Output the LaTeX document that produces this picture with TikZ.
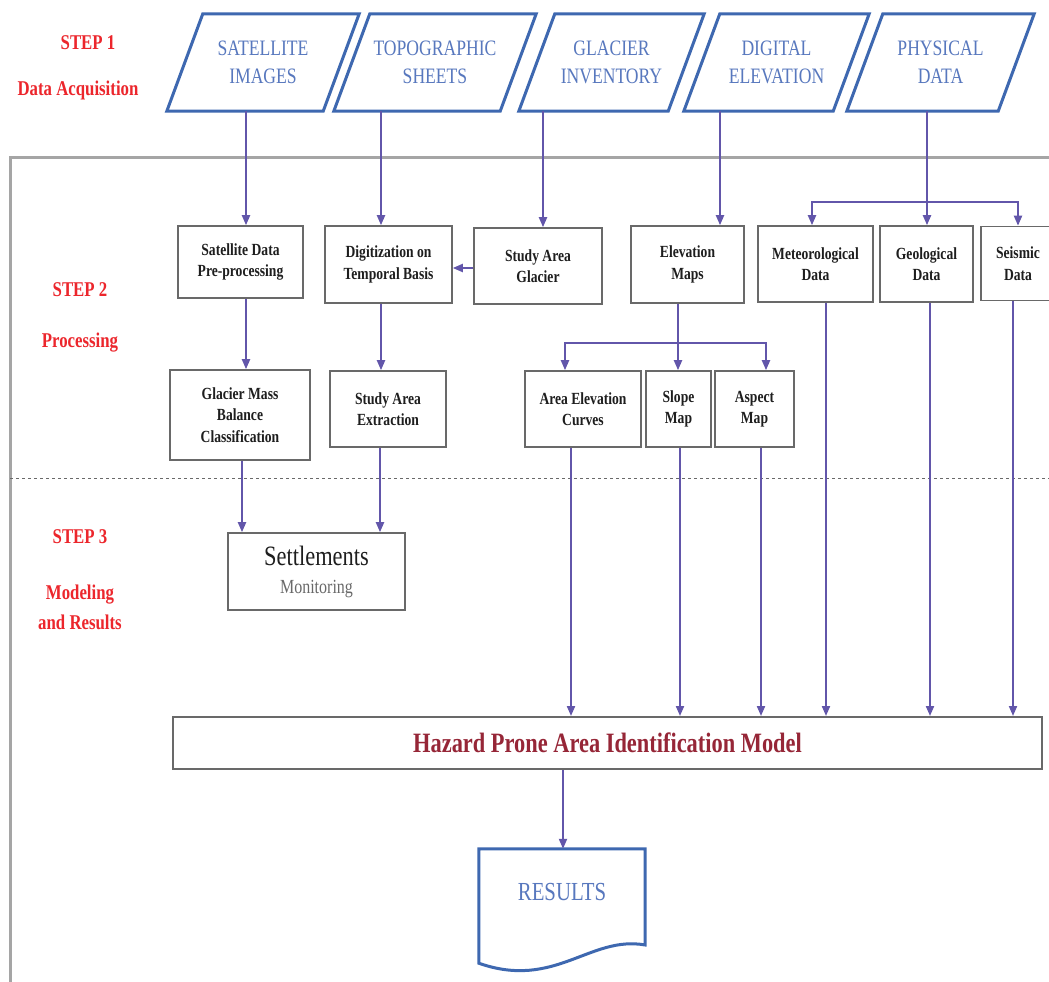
\documentclass[tikz,border=0pt]{standalone}
\usepackage{fontspec}
\setmainfont{Liberation Serif}
\newfontfamily\cond[FakeStretch=0.8]{Liberation Serif}
\usetikzlibrary{arrows.meta}
\definecolor{pblue}{RGB}{62,104,176}
\definecolor{ptext}{RGB}{88,120,190}
\definecolor{arrc}{RGB}{98,86,170}
\definecolor{sred}{RGB}{236,38,44}
\definecolor{bgray}{RGB}{105,105,105}
\definecolor{hred}{RGB}{150,38,55}
\definecolor{fgray}{RGB}{165,165,165}
\definecolor{btext}{RGB}{30,30,30}
\newcommand\paradraw[1]{\draw[paraline] (#1.north west) -- ([xshift=36pt]#1.north east) -- (#1.south east) -- ([xshift=-36pt]#1.south west) -- cycle;}
\begin{document}
\begin{tikzpicture}[x=1pt,y=-1pt,
  para/.style={draw=none, minimum height=97pt, inner sep=0pt, align=center, font=\cond\fontsize{22}{28}\selectfont, text=ptext},
  paraline/.style={draw=pblue, line width=3pt, line join=miter},
  box/.style={draw=bgray, line width=1.6pt, inner sep=0pt, align=center, text=btext, font=\cond\bfseries\fontsize{17}{21.5}\selectfont},
  steplbl/.style={text=sred, font=\cond\bfseries\fontsize{21}{30}\selectfont, align=center, inner sep=0pt},
  conn/.style={draw=arrc, line width=2pt, -{Triangle[length=10pt,width=8pt]}},
  plain/.style={draw=arrc, line width=2pt},
]
\fill[white] (0,0) rectangle (1049,982);
\useasboundingbox (0,0) rectangle (1049,982);

% frame and separator
\draw[fgray, line width=3pt] (1060,157) -- (10,157) -- (10,995);
\draw[bgray, line width=1pt, dash pattern=on 3pt off 3pt] (10,478) -- (1049,478);

% step labels
\node[steplbl] (s1) at (88,43) {STEP 1};
\node[steplbl] (s1b) at (78,90) {Data Acquisition};
\node[steplbl] (s2) at (80,290) {STEP 2};
\node[steplbl] (s2b) at (80,343) {Processing};
\node[steplbl] (s3) at (80,537) {STEP 3};
\node[steplbl] (s3b) at (80,607) {Modeling\\and Results};

% step 1 inputs
\node[para, minimum width=120pt] (sat) at (263,62.5) {SATELLITE\\IMAGES};
\node[para, minimum width=130pt] (topo) at (435,62.5) {TOPOGRAPHIC\\SHEETS};
\node[para, minimum width=113pt] (glac) at (611.5,62.5) {GLACIER\\INVENTORY};
\node[para, minimum width=113pt] (dig) at (776.5,62.5) {DIGITAL\\ELEVATION};
\node[para, minimum width=115pt] (phys) at (940.5,62.5) {PHYSICAL\\DATA};
\paradraw{sat}
\paradraw{topo}
\paradraw{glac}
\paradraw{dig}
\paradraw{phys}

% step 2 row 1
\node[box, minimum width=125pt, minimum height=72pt] (sdp) at (240.5,262) {Satellite Data\\Pre-processing};
\node[box, minimum width=127pt, minimum height=77pt] (dtb) at (388.5,264.5) {Digitization on\\Temporal Basis};
\node[box, minimum width=128pt, minimum height=76pt] (sag) at (538,266) {Study Area\\Glacier};
\node[box, minimum width=113pt, minimum height=77pt] (elm) at (687.5,264.5) {Elevation\\Maps};
\node[box, minimum width=115pt, minimum height=76pt] (met) at (815.5,264) {Meteorological\\Data};
\node[box, minimum width=93pt, minimum height=76pt] (geo) at (926.5,264) {Geological\\Data};
\node[box, minimum width=74pt, minimum height=74pt] (sei) at (1018,263.5) {Seismic\\Data};

% step 2 row 2
\node[box, minimum width=140pt, minimum height=90pt] (gmb) at (240,415) {Glacier Mass\\Balance\\Classification};
\node[box, minimum width=116pt, minimum height=76pt] (sae) at (388,409) {Study Area\\Extraction};
\node[box, minimum width=116pt, minimum height=76pt] (aec) at (583,409) {Area Elevation\\Curves};
\node[box, minimum width=65pt, minimum height=76pt] (slm) at (678.5,409) {Slope\\Map};
\node[box, minimum width=79pt, minimum height=76pt] (asm) at (754.5,409) {Aspect\\Map};

% step 3
\node[box, minimum width=177pt, minimum height=77pt, font=\cond\mdseries\fontsize{20}{28}\selectfont] (set) at (316.5,571.5) {{\fontsize{28}{28}\selectfont Settlements}\\{\color{bgray}Monitoring}};
\node[box, line width=2pt, minimum width=869pt, minimum height=52pt, font=\cond\bfseries\fontsize{28}{30}\selectfont, text=hred] (haz) at (607.5,743) {Hazard Prone Area Identification Model};

% results document
\node[draw=none, minimum width=166pt, minimum height=114pt, inner sep=0pt] (res) at (562,906) {};
\draw[pblue, line width=3pt, line join=miter] (res.north west) -- (res.north east) -- (res.east |- 0,945) .. controls (590,935) and (555,990) .. (res.south west) -- cycle;
\node[text=ptext, font=\cond\fontsize{26}{28}\selectfont, inner sep=0pt] (restxt) at ([yshift=14pt]res.center) {RESULTS};

% connectors step 1 -> step 2
\draw[conn] (sat.south -| 246,0) -- (sdp.north -| 246,0);
\draw[conn] (topo.south -| 381,0) -- (dtb.north -| 381,0);
\draw[conn] (glac.south -| 543,0) -- (sag.north -| 543,0);
\draw[conn] (dig.south -| 720,0) -- (elm.north -| 720,0);
\draw[conn] (phys.south -| 927,0) -- (geo.north -| 927,0);
\coordinate (pj) at (927,202);
\draw[conn] (pj) -| (met.north -| 812,0);
\draw[conn] (pj) -| (sei.north -| 1018,0);

% within step 2
\draw[conn] (sag.west |- 0,268) -- (dtb.east |- 0,268);
\draw[conn] (sdp.south -| 246,0) -- (gmb.north -| 246,0);
\draw[conn] (dtb.south -| 381,0) -- (sae.north -| 381,0);
\coordinate (ej) at (678,343);
\draw[plain] (elm.south -| 678,0) -- (ej);
\draw[conn] (ej) -| (aec.north -| 565,0);
\draw[conn] (ej) -- (slm.north -| 678,0);
\draw[conn] (ej) -| (asm.north -| 766,0);

% to step 3
\draw[conn] (gmb.south -| 242,0) -- (set.north -| 242,0);
\draw[conn] (sae.south -| 380,0) -- (set.north -| 380,0);
\draw[conn] (aec.south -| 571,0) -- (haz.north -| 571,0);
\draw[conn] (slm.south -| 680,0) -- (haz.north -| 680,0);
\draw[conn] (asm.south -| 761,0) -- (haz.north -| 761,0);
\draw[conn] (met.south -| 826,0) -- (haz.north -| 826,0);
\draw[conn] (geo.south -| 930,0) -- (haz.north -| 930,0);
\draw[conn] (sei.south -| 1013,0) -- (haz.north -| 1013,0);
\draw[conn] (haz.south -| 563,0) -- (res.north -| 563,0);
\end{tikzpicture}
\end{document}
